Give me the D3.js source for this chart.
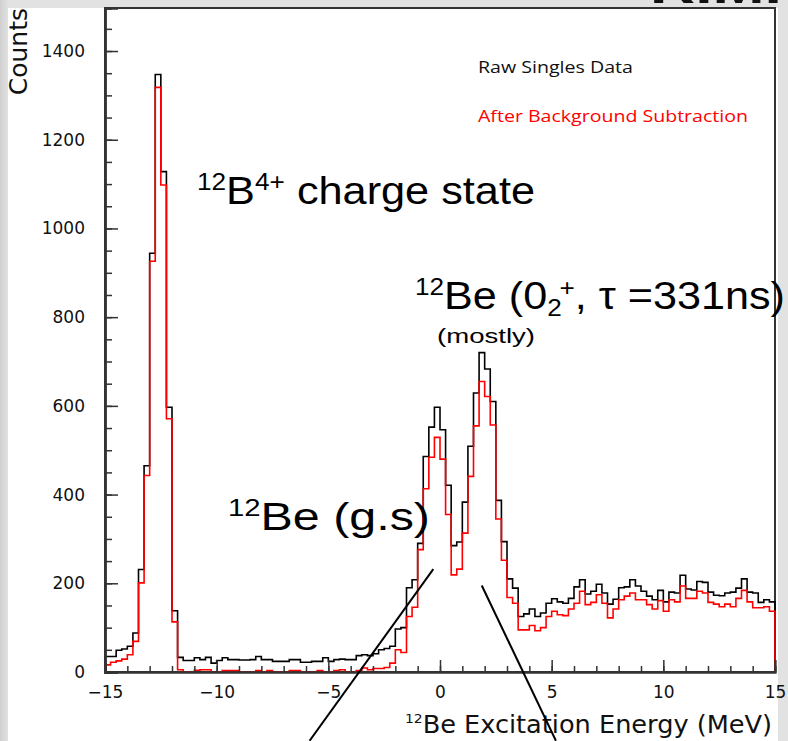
<!DOCTYPE html>
<html>
<head>
<meta charset="utf-8">
<script src="https://cdn.jsdelivr.net/npm/d3@7"></script>
<style>
  html, body { margin: 0; padding: 0; background: #ffffff; }
  svg { display: block; }
</style>
</head>
<body>
<svg id="chart" width="788" height="741"></svg>
<script>
// ---------------- data ----------------
const binStart = -15, binWidth = 0.25;
const rawSingles = [
  35, 35, 49, 52, 58, 88, 231, 465, 944, 1347,
  1128, 597, 138, 33, 26, 26, 32, 28, 33, 20,
  26, 32, 28, 28, 27, 27, 28, 35, 28, 28,
  24, 24, 24, 28, 28, 22, 22, 24, 24, 32,
  24, 28, 29, 28, 28, 37, 39, 37, 41, 50,
  53, 58, 97, 100, 190, 208, 290, 486, 552, 597,
  546, 421, 285, 293, 383, 509, 629, 720, 683, 610,
  387, 294, 210, 189, 125, 131, 142, 125, 133, 155,
  165, 158, 155, 166, 192, 208, 176, 182, 198, 178,
  153, 164, 190, 192, 208, 194, 182, 171, 163, 184,
  158, 180, 178, 218, 187, 185, 204, 202, 180, 173,
  172, 178, 180, 189, 210, 180, 178, 157, 163, 158
];
const bgSubtracted = [
  16, 22, 25, 29, 39, 69, 201, 443, 926, 1318,
  1098, 571, 113, 5, 0, 0, 4, 5, 5, 0,
  0, 3, 3, 3, 0, 0, 0, 3, 0, 3,
  0, 0, 0, 3, 3, 0, 0, 0, 3, 0,
  0, 3, 5, 0, 0, 3, 9, 5, 8, 8,
  10, 20, 50, 44, 125, 146, 276, 413, 484, 529,
  480, 355, 219, 232, 313, 441, 555, 655, 621, 557,
  345, 252, 168, 155, 95, 95, 105, 93, 100, 125,
  137, 129, 127, 142, 155, 182, 152, 157, 174, 155,
  122, 142, 163, 171, 178, 163, 163, 152, 142, 161,
  137, 163, 158, 194, 166, 166, 182, 178, 157, 153,
  147, 153, 147, 166, 184, 158, 145, 145, 147, 137
];
const xDomain = [-15, 15];
const yDomain = [0, 1497];
const xMajorTicks = [-15, -10, -5, 0, 5, 10, 15];
const yMajorTicks = [0, 200, 400, 600, 800, 1000, 1200, 1400];
// annotation pointer lines, in data coordinates [E, counts]
const pointerLines = [
  [[-0.30, 232], [-5.84, -155]],
  [[1.87, 195], [5.19, -155]]
];

// ---------------- layout ----------------
const svg = d3.select("#chart");
const W = 788, H = 741;
const plot = { left: 105, right: 775, top: 8, bottom: 672 };
const axisColor = "#333333";
const tickFont = "'DejaVu Sans', 'Liberation Sans', sans-serif";

// background
const defs = svg.append("defs");
const gl = defs.append("linearGradient").attr("id", "bgLeft").attr("x1", 0).attr("x2", 1).attr("y1", 0).attr("y2", 0);
gl.append("stop").attr("offset", "0%").attr("stop-color", "#cfcfcf");
gl.append("stop").attr("offset", "100%").attr("stop-color", "#e3e3e3");
svg.append("rect").attr("width", W).attr("height", H).attr("fill", "#e2e2e2");
svg.append("rect").attr("x", 0).attr("y", 0).attr("width", 9).attr("height", H).attr("fill", "url(#bgLeft)");
svg.append("rect").attr("x", 8).attr("y", 8).attr("width", 770).attr("height", H - 8).attr("fill", "#ffffff");

// partially visible title text at top right
svg.append("text").attr("x", 650).attr("y", 3)
  .attr("font-family", "'Liberation Sans', Arial, sans-serif").attr("font-weight", "bold")
  .attr("font-size", 44).attr("fill", "#111")
  .attr("textLength", 132).attr("lengthAdjust", "spacingAndGlyphs").text("R.M.");

const x = d3.scaleLinear().domain(xDomain).range([plot.left, plot.right]);
const y = d3.scaleLinear().domain(yDomain).range([plot.bottom, plot.top]);

// histogram outline paths
function histPoints(vals) {
  const pts = [[binStart, 0]];
  vals.forEach((v, i) => pts.push([binStart + i * binWidth, v]));
  pts.push([binStart + vals.length * binWidth, vals[vals.length - 1]]);
  pts.push([binStart + vals.length * binWidth, 0]);
  return pts;
}
const line = d3.line().x(d => x(d[0])).y(d => y(d[1])).curve(d3.curveStepAfter);

// frame (top + right)
svg.append("rect")
  .attr("x", plot.left).attr("y", plot.top)
  .attr("width", plot.right - plot.left).attr("height", plot.bottom - plot.top)
  .attr("fill", "none").attr("stroke", axisColor).attr("stroke-width", 2);

svg.append("path").datum(histPoints(rawSingles))
  .attr("d", line).attr("fill", "none").attr("stroke", "#000").attr("stroke-width", 1.6);
svg.append("path").datum(histPoints(bgSubtracted))
  .attr("d", line).attr("fill", "none").attr("stroke", "#ff0000").attr("stroke-width", 1.6);

// x axis (ticks pointing up into plot)
const xMinor = d3.range(xDomain[0], xDomain[1] + 1, 1);
const xAxisG = svg.append("g").attr("transform", `translate(0,${plot.bottom})`);
xAxisG.call(d3.axisBottom(x).tickValues(xMinor).tickSize(-6).tickFormat(""));
xAxisG.call(g => g.append("g").call(d3.axisBottom(x).tickValues(xMajorTicks).tickSize(-12).tickPadding(14)
  .tickFormat(d3.format("d"))));
xAxisG.selectAll("path.domain").attr("stroke", axisColor).attr("stroke-width", 2);
xAxisG.selectAll(".tick line").attr("stroke", axisColor).attr("stroke-width", 1.5);
xAxisG.selectAll(".tick text").attr("font-family", tickFont).attr("font-size", 17).attr("fill", "#111");

// y axis (ticks pointing right into plot)
const yMinor = d3.range(0, 1451, 50);
const yAxisG = svg.append("g").attr("transform", `translate(${plot.left},0)`);
yAxisG.call(d3.axisLeft(y).tickValues(yMinor).tickSize(-7).tickFormat(""));
yAxisG.call(g => g.append("g").call(d3.axisLeft(y).tickValues(yMajorTicks).tickSize(-13).tickPadding(20)
  .tickFormat(d3.format("d"))));
yAxisG.selectAll("path.domain").attr("stroke", axisColor).attr("stroke-width", 2.4);
yAxisG.selectAll(".tick line").attr("stroke", axisColor).attr("stroke-width", 1.5);
yAxisG.selectAll(".tick text").attr("font-family", tickFont).attr("font-size", 17).attr("fill", "#111");

// axis titles
svg.append("text")
  .attr("transform", "translate(27,8) rotate(-90)")
  .attr("text-anchor", "end")
  .attr("font-family", tickFont).attr("font-size", 25).attr("fill", "#111")
  .text("Counts");

const xt = svg.append("text").attr("x", 405).attr("y", 733)
  .attr("textLength", 367).attr("lengthAdjust", "spacingAndGlyphs")
  .attr("font-family", "'DejaVu Sans Condensed', 'DejaVu Sans', sans-serif").attr("font-size", 24).attr("fill", "#111");
xt.append("tspan").attr("font-size", 13).attr("dy", -10).text("12");
xt.append("tspan").attr("dy", 10).text("Be Excitation Energy (MeV)");

// legend-like labels
const legendFont = "'Open Sans', 'Lato', sans-serif";
svg.append("text").attr("x", 478).attr("y", 73).attr("font-family", legendFont).attr("font-size", 16)
  .attr("textLength", 155).attr("lengthAdjust", "spacingAndGlyphs")
  .attr("fill", "#111").text("Raw Singles Data");
svg.append("text").attr("x", 478).attr("y", 122).attr("font-family", legendFont).attr("font-size", 16)
  .attr("textLength", 270).attr("lengthAdjust", "spacingAndGlyphs")
  .attr("fill", "#ff0000").text("After Background Subtraction");

// annotations
const annFont = "'Liberation Sans', Arial, sans-serif";
const a1 = svg.append("text").attr("x", 197).attr("y", 204).attr("font-family", annFont).attr("font-size", 38)
  .attr("textLength", 338).attr("lengthAdjust", "spacingAndGlyphs").attr("fill", "#000");
a1.append("tspan").attr("font-size", 23).attr("dy", -14).text("12");
a1.append("tspan").attr("dy", 14).text("B");
a1.append("tspan").attr("font-size", 23).attr("dy", -14).text("4+");
a1.append("tspan").attr("dy", 14).text(" charge state");

const a2 = svg.append("text").attr("x", 415).attr("y", 309).attr("font-family", annFont).attr("font-size", 38)
  .attr("textLength", 370).attr("lengthAdjust", "spacingAndGlyphs").attr("fill", "#000");
a2.append("tspan").attr("font-size", 23).attr("dy", -14).text("12");
a2.append("tspan").attr("dy", 14).text("Be (0");
a2.append("tspan").attr("font-size", 23).attr("dy", 7).text("2");
a2.append("tspan").attr("font-size", 23).attr("dy", -20).attr("dx", -2).text("+");
a2.append("tspan").attr("dy", 13).text(", τ =331ns)");

svg.append("text").attr("x", 437).attr("y", 343).attr("font-family", annFont).attr("font-size", 21)
  .attr("textLength", 98).attr("lengthAdjust", "spacingAndGlyphs")
  .attr("fill", "#000").text("(mostly)");

const a3 = svg.append("text").attr("x", 228).attr("y", 530).attr("font-family", annFont).attr("font-size", 38)
  .attr("textLength", 202).attr("lengthAdjust", "spacingAndGlyphs").attr("fill", "#000");
a3.append("tspan").attr("font-size", 23).attr("dy", -14).text("12");
a3.append("tspan").attr("dy", 14).text("Be (g.s)");

// pointer lines
svg.append("g").selectAll("line").data(pointerLines).join("line")
  .attr("x1", d => x(d[0][0])).attr("y1", d => y(d[0][1]))
  .attr("x2", d => x(d[1][0])).attr("y2", d => y(d[1][1]))
  .attr("stroke", "#000").attr("stroke-width", 2);
</script>
</body>
</html>
